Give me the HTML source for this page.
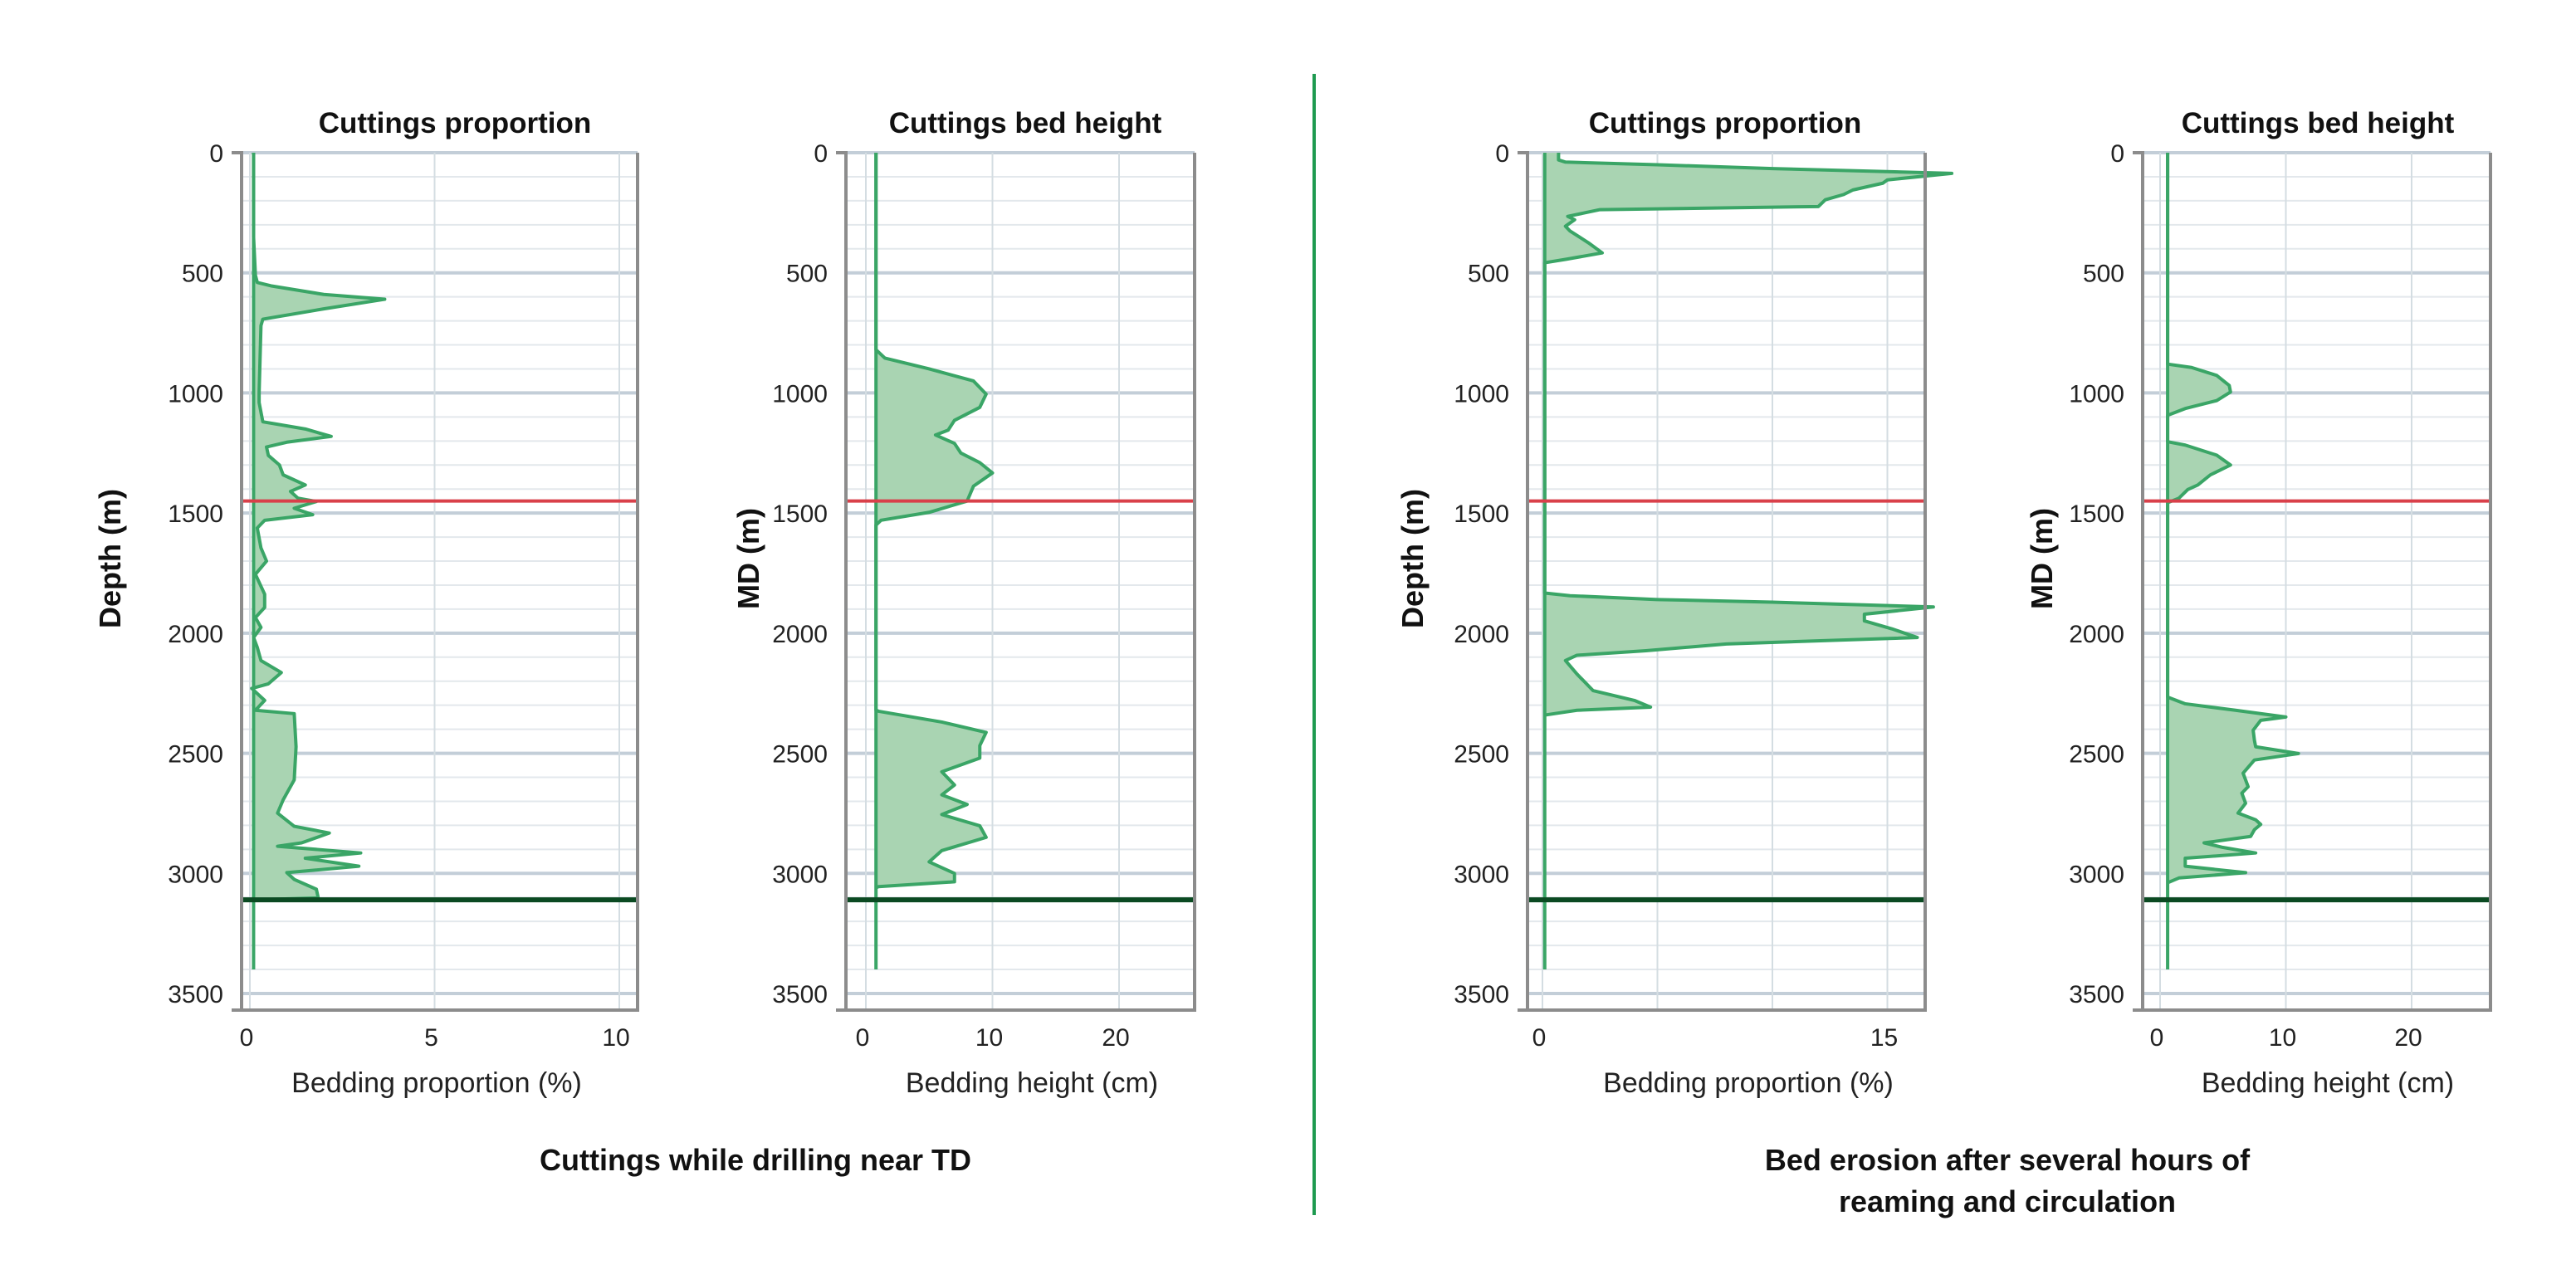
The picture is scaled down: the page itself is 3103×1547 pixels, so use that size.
<!DOCTYPE html>
<html><head><meta charset="utf-8"><style>
html,body{margin:0;padding:0;background:#fff;}
svg{display:block;font-family:"Liberation Sans",sans-serif;}
</style></head><body>
<svg id="chart" width="3103" height="1547" viewBox="0 0 3103 1547" xmlns="http://www.w3.org/2000/svg">
<line x1="1583" y1="89" x2="1583" y2="1464" stroke="#1e9a50" stroke-width="4"/>
<text x="910" y="1410" font-size="36" font-weight="bold" text-anchor="middle" fill="#111">Cuttings while drilling near TD</text>
<text x="2418" y="1410" font-size="36" font-weight="bold" text-anchor="middle" fill="#111">Bed erosion after several hours of</text>
<text x="2418" y="1460" font-size="36" font-weight="bold" text-anchor="middle" fill="#111">reaming and circulation</text>
</svg>
<script>
// ---- data ----
const depthTicks = [0,500,1000,1500,2000,2500,3000,3500];
const redLineDepth = 1450;
const tdDepth = 3110;
const p1Depth = [0,350,510,540,555,590,610,650,693,720,1000,1040,1120,1150,1181,1205,1225,1260,1300,1341,1383,1410,1438,1452,1480,1507,1530,1562,1645,1700,1755,1838,1893,1935,1976,2018,2059,2114,2164,2211,2230,2280,2321,2335,2473,2611,2694,2749,2804,2832,2873,2887,2915,2937,2970,2997,3025,3066,3102,3110];
const p1Value = [0.1,0.1,0.15,0.2,0.6,2.0,3.65,2.0,0.35,0.3,0.25,0.25,0.35,1.5,2.2,1.0,0.45,0.5,0.8,0.9,1.5,1.1,1.3,1.8,1.2,1.7,0.4,0.2,0.3,0.45,0.15,0.4,0.4,0.15,0.3,0.1,0.2,0.3,0.85,0.5,0.05,0.4,0.15,1.2,1.25,1.2,0.9,0.75,1.2,2.15,1.4,0.75,3.0,1.5,2.95,1.0,1.2,1.8,1.85,0.1];
const p2Depth = [0,820,855,900,950,1005,1060,1114,1155,1175,1210,1250,1290,1333,1388,1450,1497,1530,1550,2320,2325,2370,2413,2468,2520,2577,2632,2673,2713,2755,2802,2850,2905,2952,3000,3035,3055,3060];
const p2Value = [0.8,0.8,1.5,5,8.5,9.5,9,7,6.5,5.5,7,7.5,9,10,8.5,8,5,1.2,0.8,0.8,1,6,9.5,9,9,6,7,6,8,6,9,9.5,6,5,7,7,1,0.8];
const p3Depth = [0,30,39,50,66,86,113,127,155,174,196,224,237,265,279,306,326,375,417,444,458,1833,1844,1860,1871,1891,1921,1949,1982,2018,2045,2073,2092,2114,2170,2239,2280,2308,2321,2341];
const p3Value = [0.7,0.7,1,5,10,17.8,15,14.8,13.5,13.1,12.3,12,2.5,1.1,1.4,1.0,1.2,2.0,2.6,1.0,0.1,0.1,1.2,5,10,17,14,14,15.2,16.3,8,4.5,1.5,1.0,1.5,2.2,4,4.7,1.5,0.1];
const p4Depth = [0,880,894,927,969,996,1032,1065,1093,1203,1217,1259,1300,1341,1383,1402,1438,1457,2266,2294,2321,2349,2363,2404,2446,2473,2501,2528,2583,2639,2666,2708,2749,2777,2796,2818,2846,2873,2892,2915,2937,2970,2997,3019,3039];
const p4Value = [0.6,0.6,2.5,4.5,5.5,5.6,4.5,2,0.6,0.6,2,4.5,5.6,4.0,3.0,2.2,1.5,0.6,0.6,2,6,10,8,7.4,7.5,7.6,11,7.5,6.6,7.0,6.5,6.8,6.2,7.6,8,7.5,7.2,3.5,5,7.6,2,2,6.8,1.5,0.6];
const p1Ticks = [0,5,10], p2Ticks=[0,10,20], p3Ticks=[0,15], p4Ticks=[0,10,20];

const NS="http://www.w3.org/2000/svg";
const svg=document.getElementById('chart');
function mk(tag,attrs,parent){const e=document.createElementNS(NS,tag);for(const k in attrs)e.setAttribute(k,attrs[k]);(parent||svg).appendChild(e);return e;}

const Y0=184, YS=1013/3500;
function yS(d){return Y0+d*YS;}

function panel(cfg){
  const g=mk('g',{});
  
  
  const xS=v=>cfg.x0+v*cfg.k;
  const L=cfg.left,R=cfg.right,B=1217;
  // minor grid
  for(let d=0;d<=3500;d+=100){
    const major=d%500===0;
    const ln=mk('line',{x1:L,x2:R,y1:yS(d),y2:yS(d),stroke:major?'#c3ced8':'#e3e8ec','stroke-width':major?4:2},g);
    
    
  }
  cfg.vgrid.forEach(v=>{
    const ln=mk('line',{x1:xS(v),x2:xS(v),y1:Y0,y2:B,stroke:'#d4dde2','stroke-width':2},g);
    
    
  });
  // fill + line
  const base=cfg.base;
  let pts=cfg.depth.map((d,i)=>xS(cfg.val[i])+','+yS(d));
  const fillPts=[xS(base)+','+yS(cfg.depth[0])].concat(pts).concat([xS(base)+','+yS(cfg.depth[cfg.depth.length-1])]);
  const f=mk('polygon',{points:fillPts.join(' '),fill:'#a9d4b2',stroke:'none'},g);
  
  
  const bl=mk('line',{x1:xS(base),x2:xS(base),y1:yS(0),y2:yS(3400),stroke:'#3aa566','stroke-width':4},g);
  
  
  const pl=mk('polyline',{points:pts.join(' '),fill:'none',stroke:'#3aa566','stroke-width':4,'stroke-linejoin':'round'},g);
  
  
  // red and TD lines
  const rl=mk('line',{x1:L,x2:R,y1:yS(redLineDepth),y2:yS(redLineDepth),stroke:'#d9404a','stroke-width':4},g);
  
  
  const tl=mk('line',{x1:L,x2:R,y1:yS(tdDepth),y2:yS(tdDepth),stroke:'#0b4a22','stroke-width':6},g);
  
  
  // frame
  const fr=mk('path',{d:`M${L-12},${Y0} H${L} V${B} H${L-12} M${L},${B} H${R} V${Y0}`,fill:'none',stroke:'#8c8c8c','stroke-width':4},g);
  
  
  // y tick labels
  depthTicks.forEach(d=>{
    const t=mk('text',{x:L-22,y:yS(d)+11,'font-size':30,'text-anchor':'end',fill:'#222'},g);
    t.textContent=d;
    
    
  });
  cfg.ticks.forEach(v=>{
    const t=mk('text',{x:xS(v)-4,y:1260,'font-size':30,'text-anchor':'middle',fill:'#222'},g);
    t.textContent=v;
    
    
  });
  const tt=mk('text',{x:cfg.titleX,y:160,'font-size':35,'font-weight':'bold','text-anchor':'middle',fill:'#111'},g);
  tt.textContent=cfg.title;
  
  
  const xl=mk('text',{x:cfg.xlabX,y:1316,'font-size':34,'text-anchor':'middle',fill:'#222'},g);
  xl.textContent=cfg.xlab;
  
  
  const yl=mk('text',{x:0,y:0,'font-size':36,'font-weight':'bold','text-anchor':'middle',fill:'#111',transform:`translate(${cfg.ylabX},673) rotate(-90)`},g);
  yl.textContent=cfg.ylab;
  
  
}
panel({name:'panel-cuttings-proportion-drilling',left:291,right:768,x0:301,k:44.5,depth:p1Depth,val:p1Value,base:0.1,ticks:p1Ticks,vgrid:[0,5,10],title:'Cuttings proportion',titleX:548,xlab:'Bedding proportion (%)',xlabX:526,ylab:'Depth (m)',ylabX:145});
panel({name:'panel-bed-height-drilling',left:1019,right:1439,x0:1043,k:15.25,depth:p2Depth,val:p2Value,base:0.8,ticks:p2Ticks,vgrid:[0,10,20],title:'Cuttings bed height',titleX:1235,xlab:'Bedding height (cm)',xlabX:1243,ylab:'MD (m)',ylabX:914});
panel({name:'panel-cuttings-proportion-erosion',left:1840,right:2319,x0:1858,k:27.7,depth:p3Depth,val:p3Value,base:0.1,ticks:p3Ticks,vgrid:[0,5,10,15],title:'Cuttings proportion',titleX:2078,xlab:'Bedding proportion (%)',xlabX:2106,ylab:'Depth (m)',ylabX:1714});
panel({name:'panel-bed-height-erosion',left:2581,right:3000,x0:2602,k:15.15,depth:p4Depth,val:p4Value,base:0.6,ticks:p4Ticks,vgrid:[0,10,20],title:'Cuttings bed height',titleX:2792,xlab:'Bedding height (cm)',xlabX:2804,ylab:'MD (m)',ylabX:2472});
</script>
</body></html>
